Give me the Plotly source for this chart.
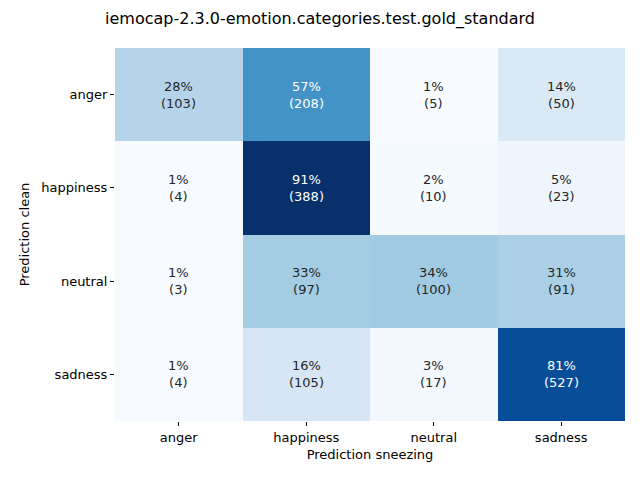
import plotly.graph_objects as go

title = "iemocap-2.3.0-emotion.categories.test.gold_standard"
labels = ["anger", "happiness", "neutral", "sadness"]
percent = [
    [28, 57, 1, 14],
    [1, 91, 2, 5],
    [1, 33, 34, 31],
    [1, 16, 3, 81],
]
counts = [
    [103, 208, 5, 50],
    [4, 388, 10, 23],
    [3, 97, 100, 91],
    [4, 105, 17, 527],
]

blues = ["#f7fbff", "#deebf7", "#c6dbef", "#9ecae1", "#6baed6",
         "#4292c6", "#2171b5", "#08519c", "#08306b"]
cscale = [[i / (len(blues) - 1), c] for i, c in enumerate(blues)]

flat = [v for row in percent for v in row]
fig = go.Figure(go.Heatmap(
    z=percent, x=labels, y=labels, colorscale=cscale,
    zmin=min(flat), zmax=max(flat), showscale=False, xgap=0, ygap=0,
    hoverinfo="skip",
))

ann = []
for i, yl in enumerate(labels):
    for j, xl in enumerate(labels):
        p = percent[i][j]
        ann.append(dict(
            x=xl, y=yl, text=f"{p}%<br>({counts[i][j]})", showarrow=False,
            font=dict(size=13, color="white" if p > 50 else "#262626"),
        ))

fig.update_layout(
    width=640, height=480,
    margin=dict(l=115, r=15, t=48, b=59),
    paper_bgcolor="white", plot_bgcolor="white",
    font=dict(family="DejaVu Sans", size=13, color="black"),
    title=dict(text=title, x=0.5, xanchor="center", y=1 - 18 / 480,
               yanchor="middle", font=dict(size=16)),
    annotations=ann,
)
fig.update_xaxes(title=dict(text="Prediction sneezing", standoff=6, font=dict(size=13)),
                 ticks="outside", ticklen=4, tickcolor="black",
                 showgrid=False, zeroline=False, showline=False)
fig.update_yaxes(title=dict(text="Prediction clean", standoff=8, font=dict(size=13)),
                 autorange="reversed",
                 ticks="outside", ticklen=4, tickcolor="black",
                 showgrid=False, zeroline=False, showline=False)

fig.write_html("out.html")
